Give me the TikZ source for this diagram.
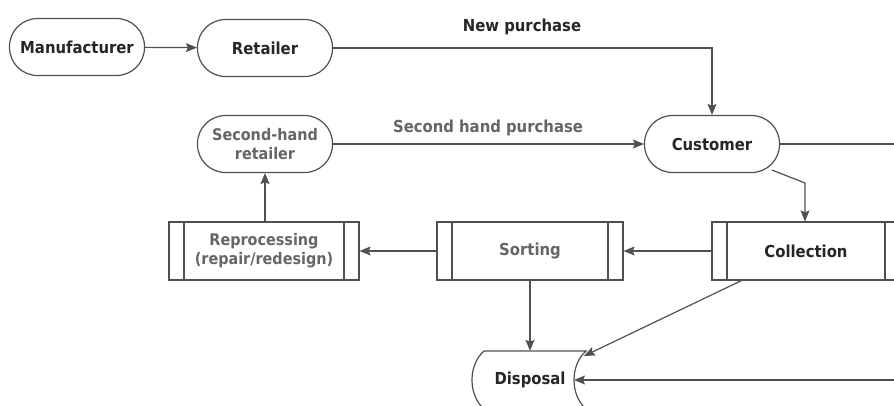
\documentclass[tikz,border=0pt]{standalone}
\usepackage{fontspec}
\setmainfont{DejaVu Sans Condensed}
\usetikzlibrary{arrows.meta}
\definecolor{ln}{HTML}{505050}
\definecolor{tx}{HTML}{262626}
\definecolor{tg}{HTML}{666666}
\tikzset{
  x=1pt,y=-1pt,
  lbl/.style={font=\bfseries\fontsize{16.5}{19}\selectfont, text=tx, align=center},
  stad/.style={lbl, draw=ln, line width=1.2pt, rectangle, rounded corners=28pt, minimum width=135pt, minimum height=57pt, inner sep=0pt},
  pbox/.style={lbl, draw=ln, line width=1.2pt, rectangle, minimum height=58pt, inner sep=0pt,
    path picture={
      \draw[ln, line width=1.2pt] ([xshift=15pt]path picture bounding box.north west) -- ([xshift=15pt]path picture bounding box.south west);
      \draw[ln, line width=1.2pt] ([xshift=-15pt]path picture bounding box.north east) -- ([xshift=-15pt]path picture bounding box.south east);
    }},
  conn/.style={draw=ln, line width=1.2pt, -{Stealth[length=11pt,width=9pt,inset=2pt]}},
  plain/.style={draw=ln, line width=1.2pt},
}
\begin{document}
\begin{tikzpicture}
\useasboundingbox (0,0) rectangle (894,405);
\clip (0,0) rectangle (894,405);
\fill[white] (0,0) rectangle (894,405);

\node[stad] (man) at (77,47) {Manufacturer};
\node[stad] (ret) at (265,48) {Retailer};
\node[stad] (cus) at (712,144) {Customer};
\node[stad, text=tg, font=\bfseries\fontsize{16}{19}\selectfont] (shr) at (265,144) {Second-hand\\retailer};
\node[pbox, minimum width=190pt, text=tg, font=\bfseries\fontsize{16}{19}\selectfont] (rep) at (264,251) {Reprocessing\\(repair/redesign)};
\node[pbox, minimum width=186pt, text=tg] (sor) at (530,251) {Sorting};
\node[pbox, minimum width=188pt] (col) at (806,251) {Collection};

% Disposal shape
\draw[ln, line width=1.2pt] (484,351) -- (586,351)
  .. controls (570,365) and (570,395) .. (586,409) -- (484,409)
  .. controls (468,395) and (468,365) .. (484,351);
\node[lbl, minimum width=100pt, minimum height=58pt, inner sep=0pt] (dis) at (530,380) {Disposal};

\coordinate (cright) at (900,144);
\coordinate (dright) at (900,380);
\coordinate (disin) at (574,380);
\coordinate (distr) at (584,356);
\coordinate (bend1) at (712,48);
\coordinate (bend2) at (805,183);

\node[lbl] (np) at (522,27) {New purchase};
\node[lbl, text=tg] (shp) at (488,128) {Second hand purchase};

\draw[conn] (man) -- (ret);
\draw[conn] (ret.east) -- (bend1) -- (cus.north);
\draw[conn] (shr) -- (cus);
\draw[plain] (cus.east) -- (cright);
\draw[conn] (cus.south east) ++(-8,-3) -- (bend2) -- (bend2 |- col.north);
\draw[conn] (col) -- (sor);
\draw[conn] (sor) -- (rep);
\draw[conn] (rep.north -| shr.south) -- (shr.south);
\draw[conn] (sor.south) -- (dis.north);
\draw[conn] ([xshift=30pt]col.south west) -- (distr);
\draw[conn] (dright) -- (disin);
\end{tikzpicture}
\end{document}
